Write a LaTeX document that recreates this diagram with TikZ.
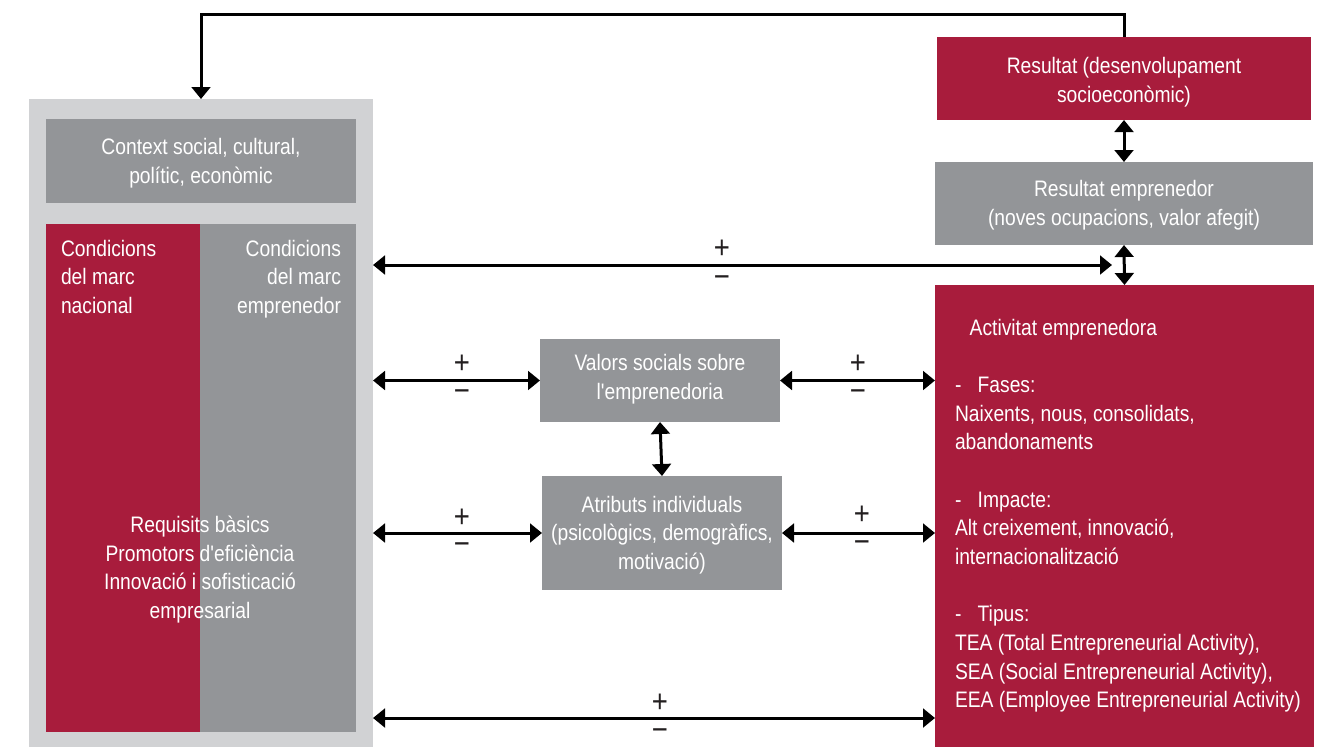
\documentclass[tikz,border=0pt]{standalone}
\usepackage{fontspec}
\setmainfont{Liberation Sans}[FakeStretch=0.86, Ligatures=TeXOff]
\usetikzlibrary{fit,arrows.meta,calc}
\definecolor{gred}{HTML}{A81C3C}
\definecolor{ggray}{HTML}{939598}
\definecolor{glight}{HTML}{D1D2D4}
\definecolor{sgncol}{HTML}{231F20}
\begin{document}
\begin{tikzpicture}[x=0.75pt,y=-0.75pt,
  box/.style={inner sep=0pt,outer sep=0pt,draw=none},
  txt/.style={inner sep=0pt,outer sep=0pt,text=white,font=\fontsize{16.8}{21.5}\selectfont},
  arr/.style={line width=2.25pt,{Triangle[length=9pt,width=14pt]}-{Triangle[length=9pt,width=14pt]}},
  onearr/.style={line width=2.25pt,-{Triangle[length=9pt,width=14pt]}},
  sgn/.style={inner sep=0pt,text=sgncol,font=\fontsize{24}{24}\selectfont}]
\useasboundingbox (0,0) rectangle (1332,747);
% left block
\node[box,fill=glight,fit={(29,99)(373,747)}] (outer) {};
\node[box,fill=ggray,fit={(46,119)(356,203)}] (ctx) {};
\node[txt,align=center] (ctxt) at ($(ctx.center)+(0,2)$) {Context social, cultural,\\polític, econòmic};
\node[box,fill=gred,fit={(46,224)(200,732)}] (nat) {};
\node[box,fill=ggray,fit={(200,224)(356,732)}] (emp) {};
\node[txt,align=left,anchor=north west] (natt) at (61,240) {Condicions\\del marc\\nacional};
\node[txt,align=right,anchor=north east] (empt) at (341,240) {Condicions\\del marc\\emprenedor};
\node[txt,align=center,anchor=north] (req) at (200,516) {Requisits bàsics\\Promotors d'eficiència\\Innovació i sofisticació\\empresarial};
% right column
\node[box,fill=gred,fit={(937,37)(1311,120)}] (res) {};
\node[txt,align=center] (rest) at ($(res.center)+(0,4)$) {Resultat (desenvolupament\\socioeconòmic)};
\node[box,fill=ggray,fit={(935,162)(1313,245)}] (resemp) {};
\node[txt,align=center] (resempt) at ($(resemp.center)+(0,2)$) {Resultat emprenedor\\(noves ocupacions, valor afegit)};
\node[box,fill=gred,fit={(935,285)(1314,747)}] (act) {};
\node[txt,align=left,anchor=north west] (actt) at (955,319) {\hspace*{11pt}Activitat emprenedora\\[21.5pt]
\makebox[17pt][l]{-}Fases:\\
Naixents, nous, consolidats,\\
abandonaments\\[21.5pt]
\makebox[17pt][l]{-}Impacte:\\
Alt creixement, innovació,\\
internacionalització\\[21.5pt]
\makebox[17pt][l]{-}Tipus:\\
TEA (Total Entrepreneurial Activity),\\
SEA (Social Entrepreneurial Activity),\\
EEA (Employee Entrepreneurial Activity)};
% middle
\node[box,fill=ggray,fit={(540,339)(780,422)}] (val) {};
\node[txt,align=center] (valt) at ($(val.center)+(0,-1)$) {Valors socials sobre\\l'emprenedoria};
\node[box,fill=ggray,fit={(542,476)(782,590)}] (atr) {};
\node[txt,align=center] (atrt) at ($(atr.center)+(0,2)$) {Atributs individuals\\(psicològics, demogràfics,\\motivació)};
% connectors
\coordinate (top) at (0,14);
\draw[onearr] (res.north) -- (res.north |- top) -| (outer.north);
\draw[arr] (res.south) -- (resemp.north);
\draw[arr] (resemp.south) -- (act.north);
\coordinate (c1) at (1112,265);
\draw[arr] (outer.east |- c1) -- (c1);
\draw[arr] (outer.east |- val.west) -- (val.west);
\draw[arr] (val.east) -- (act.west |- val.east);
\draw[arr] (outer.east |- atr.west) -- (atr.west);
\draw[arr] (atr.east) -- (act.west |- atr.east);
\draw[arr] (val.south) -- (atr.north);
\coordinate (c4) at (0,718);
\draw[arr] (outer.east |- c4) -- (act.west |- c4);
% signs
\node[sgn] (p1) at (722,249) {+};
\node[sgn] (m1) at (722,282) {−};
\node[sgn] (p2) at (462,364) {+};
\node[sgn] (m2) at (462,396) {−};
\node[sgn] (p3) at (858,364) {+};
\node[sgn] (m3) at (858,396) {−};
\node[sgn] (p4) at (462,518) {+};
\node[sgn] (m4) at (462,549) {−};
\node[sgn] (p5) at (862,515) {+};
\node[sgn] (m5) at (862,547) {−};
\node[sgn] (p6) at (660,703) {+};
\node[sgn] (m6) at (660,735) {−};
\end{tikzpicture}
\end{document}
